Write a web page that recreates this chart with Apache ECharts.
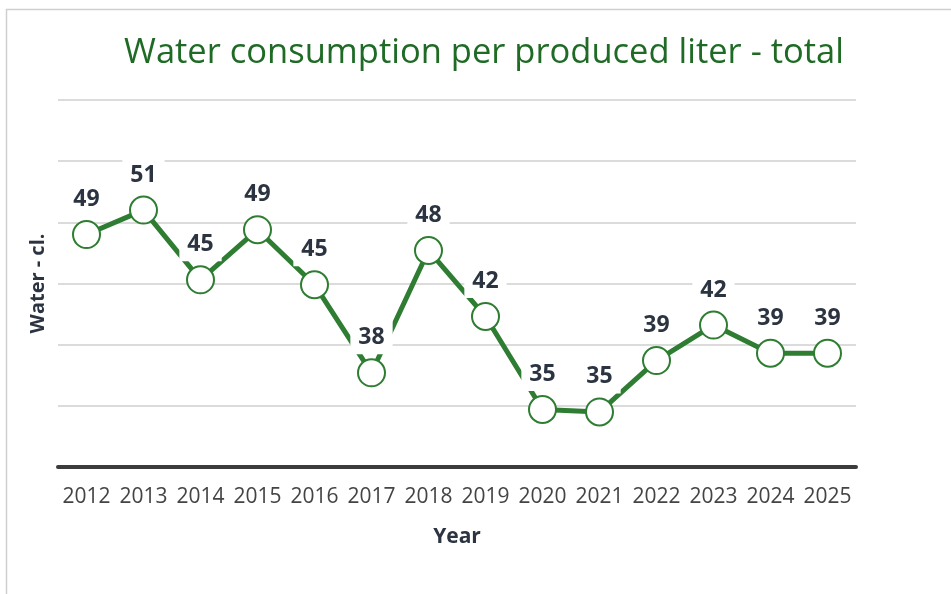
<!DOCTYPE html>
<html>
<head>
<meta charset="utf-8">
<script src="https://cdn.jsdelivr.net/npm/echarts@6/dist/echarts.min.js"></script>
<style>
html,body{margin:0;padding:0;background:#fff;}
#c{width:951px;height:594px;}
</style>
</head>
<body>
<div id="c"></div>
<script>
var years = ['2012','2013','2014','2015','2016','2017','2018','2019','2020','2021','2022','2023','2024','2025'];
var water = [49.0, 51.0, 45.3, 49.4, 44.9, 37.7, 47.7, 42.3, 34.7, 34.5, 38.7, 41.6, 39.3, 39.3];
var yMin = 30, yMax = 60, yStep = 5;

var F = '"Open Sans"';
var chart = echarts.init(document.getElementById('c'));
chart.setOption({
  animation: false,
  backgroundColor: '#fff',
  title: {
    text: 'Water consumption per produced liter - total',
    left: 479, top: 31, textAlign: 'center',
    textStyle: { color: '#1f6b26', fontSize: 34.5, fontWeight: 'normal', fontFamily: F }
  },
  graphic: [{
    type: 'polyline', silent: true,
    shape: { points: [[6.5, 594], [6.5, 9.5], [951, 9.5]] },
    style: { stroke: '#cfcfcf', lineWidth: 1.5, fill: null }
  }],
  grid: { left: 58, right: 95, top: 100, bottom: 127 },
  xAxis: {
    type: 'category', data: years, boundaryGap: true,
    name: 'Year', nameLocation: 'middle', nameGap: 60,
    nameTextStyle: { color: '#2b3440', fontSize: 21, fontWeight: 'bold', fontFamily: F },
    axisLine: { lineStyle: { color: '#3c3c3c', width: 4 } },
    axisTick: { show: false },
    axisLabel: { color: '#444', fontSize: 21, margin: 20, fontFamily: F, interval: 0 }
  },
  yAxis: {
    type: 'value', min: yMin, max: yMax, interval: yStep,
    name: 'Water - cl.', nameLocation: 'middle', nameGap: 10,
    nameTextStyle: { color: '#2b3440', fontSize: 20, fontWeight: 'bold', fontFamily: F },
    axisLine: { show: false }, axisTick: { show: false },
    axisLabel: { show: false },
    splitLine: { lineStyle: { color: '#cfcfcf', width: 1.5 } }
  },
  series: [{
    type: 'line', data: water,
    lineStyle: { color: '#2e7d32', width: 5 },
    itemStyle: { color: '#fff', borderColor: '#2e7d32', borderWidth: 2 },
    symbol: 'circle', symbolSize: 27,
    label: {
      show: true, position: 'top', distance: 4,
      formatter: function (p) { return Math.round(p.value); },
      color: '#2b3440', fontSize: 23, fontWeight: 'bold', fontFamily: F,
      backgroundColor: '#fff', padding: [5, 8]
    }
  }]
});
</script>
</body>
</html>
